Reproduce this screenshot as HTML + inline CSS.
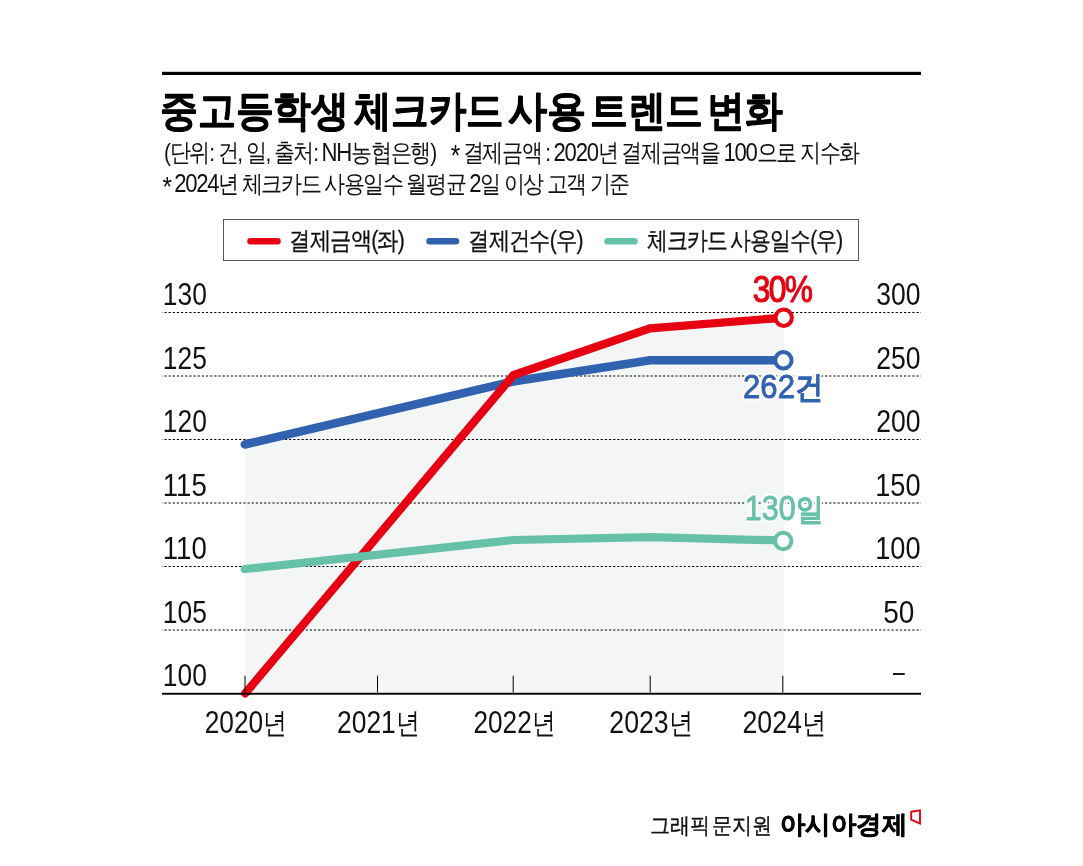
<!DOCTYPE html>
<html lang="ko">
<head>
<meta charset="utf-8">
<title>중고등학생 체크카드 사용 트렌드 변화</title>
<style>
html,body{margin:0;padding:0;background:#fff;}
body{width:1083px;height:866px;overflow:hidden;font-family:"Liberation Sans",sans-serif;}
svg{display:block;font-family:"Liberation Sans",sans-serif;will-change:transform;}
</style>
</head>
<body>
<svg width="1083" height="866" viewBox="0 0 1083 866">
<rect width="1083" height="866" fill="#fff"/>
<!-- top rule -->
<rect x="162" y="71.8" width="759" height="3.2" fill="#000"/>
<!-- title -->
<text x="159.90" y="125.00" font-size="41.70" fill="#000" textLength="189.23" lengthAdjust="spacingAndGlyphs" font-weight="bold" stroke="#000" stroke-width="0.8" stroke-linejoin="round">중고등학생</text>
<text x="353.78" y="125.00" font-size="41.70" fill="#000" textLength="149.86" lengthAdjust="spacingAndGlyphs" font-weight="bold" stroke="#000" stroke-width="0.8" stroke-linejoin="round">체크카드</text>
<text x="507.77" y="125.00" font-size="41.70" fill="#000" textLength="78.30" lengthAdjust="spacingAndGlyphs" font-weight="bold" stroke="#000" stroke-width="0.8" stroke-linejoin="round">사용</text>
<text x="589.67" y="125.00" font-size="41.70" fill="#000" textLength="113.62" lengthAdjust="spacingAndGlyphs" font-weight="bold" stroke="#000" stroke-width="0.8" stroke-linejoin="round">트렌드</text>
<text x="707.42" y="125.00" font-size="41.70" fill="#000" textLength="75.67" lengthAdjust="spacingAndGlyphs" font-weight="bold" stroke="#000" stroke-width="0.8" stroke-linejoin="round">변화</text>

<!-- notes -->
<text x="163.97" y="160.82" font-size="24.80" fill="#111" textLength="272.03" lengthAdjust="spacingAndGlyphs" style="word-spacing:-1px;letter-spacing:-1.5px;">(단위: 건, 일, 출처: <tspan font-size="26.29">NH</tspan>농협은행)</text>
<text x="450.79" y="160.82" font-size="24.80" fill="#111" textLength="408.21" lengthAdjust="spacingAndGlyphs" style="word-spacing:-1px;letter-spacing:-1.5px;"><tspan font-size="29.02" baseline-shift="-3.9">*</tspan> 결제금액 : <tspan font-size="26.29">2020</tspan>년 결제금액을 <tspan font-size="26.29">100</tspan>으로 지수화</text>
<text x="162.59" y="192.09" font-size="23.78" fill="#111" textLength="466.42" lengthAdjust="spacingAndGlyphs" style="word-spacing:-1px;letter-spacing:-1.5px;"><tspan font-size="27.82" baseline-shift="-3.9">*</tspan> <tspan font-size="25.20">2024</tspan>년 체크카드 사용일수 월평균 <tspan font-size="25.20">2</tspan>일 이상 고객 기준</text>

<!-- legend -->
<rect x="223.5" y="219.5" width="635" height="41" fill="#fff" stroke="#585858" stroke-width="1"/>
<line x1="250.5" y1="241.2" x2="277.5" y2="241.2" stroke="#e60012" stroke-width="6.5" stroke-linecap="round"/>
<line x1="429.5" y1="241.2" x2="456" y2="241.2" stroke="#3162b0" stroke-width="6.5" stroke-linecap="round"/>
<line x1="607.5" y1="241.2" x2="634.5" y2="241.2" stroke="#67c1a9" stroke-width="6.5" stroke-linecap="round"/>
<text x="289.31" y="248.57" font-size="24.88" fill="#111" textLength="114.72" lengthAdjust="spacingAndGlyphs" stroke="#111" stroke-width="0.3" stroke-linejoin="round" style="letter-spacing:-1px;">결제금액(좌)</text>
<text x="468.15" y="248.57" font-size="24.88" fill="#111" textLength="114.51" lengthAdjust="spacingAndGlyphs" stroke="#111" stroke-width="0.3" stroke-linejoin="round" style="letter-spacing:-1px;">결제건수(우)</text>
<text x="646.70" y="248.57" font-size="24.88" fill="#111" textLength="195.73" lengthAdjust="spacingAndGlyphs" stroke="#111" stroke-width="0.3" stroke-linejoin="round" style="word-spacing:-2px;letter-spacing:-1px;">체크카드 사용일수(우)</text>

<!-- plot fill -->
<path d="M244.8,693 L244.8,444.5 L513,381.5 L650,360.3 L784,360.3 L784,693 Z" fill="#f4f6f6"/>
<path d="M244.8,693 L244.8,692 L513.5,375 L650,328 L784,317.7 L784,693 Z" fill="#f4f6f6"/>
<!-- gridlines -->
<g stroke="#000" stroke-width="1" stroke-dasharray="2.2 1.955" stroke-dashoffset="1.75">
<line x1="162" y1="312.5" x2="921" y2="312.5"/>
<line x1="162" y1="376" x2="921" y2="376"/>
<line x1="162" y1="439.5" x2="921" y2="439.5"/>
<line x1="162" y1="503" x2="921" y2="503"/>
<line x1="162" y1="566.5" x2="921" y2="566.5"/>
<line x1="162" y1="630" x2="921" y2="630"/>
</g>
<!-- y labels -->
<text x="162.82" y="305.18" font-size="30.85" fill="#111" textLength="43.98" lengthAdjust="spacingAndGlyphs">130</text>
<text x="162.82" y="368.68" font-size="30.85" fill="#111" textLength="43.98" lengthAdjust="spacingAndGlyphs">125</text>
<text x="162.82" y="432.18" font-size="30.85" fill="#111" textLength="43.98" lengthAdjust="spacingAndGlyphs">120</text>
<text x="162.82" y="495.68" font-size="30.85" fill="#111" textLength="43.98" lengthAdjust="spacingAndGlyphs">115</text>
<text x="162.82" y="559.18" font-size="30.85" fill="#111" textLength="43.98" lengthAdjust="spacingAndGlyphs">110</text>
<text x="162.82" y="622.68" font-size="30.85" fill="#111" textLength="43.98" lengthAdjust="spacingAndGlyphs">105</text>
<text x="162.82" y="686.18" font-size="30.85" fill="#111" textLength="43.98" lengthAdjust="spacingAndGlyphs">100</text>

<text x="876.28" y="305.19" font-size="30.85" fill="#111" textLength="44.18" lengthAdjust="spacingAndGlyphs">300</text>
<text x="876.20" y="368.69" font-size="30.85" fill="#111" textLength="44.30" lengthAdjust="spacingAndGlyphs">250</text>
<text x="876.20" y="432.19" font-size="30.85" fill="#111" textLength="44.30" lengthAdjust="spacingAndGlyphs">200</text>
<text x="875.19" y="495.69" font-size="30.85" fill="#111" textLength="45.33" lengthAdjust="spacingAndGlyphs">150</text>
<text x="875.19" y="559.19" font-size="30.85" fill="#111" textLength="45.33" lengthAdjust="spacingAndGlyphs">100</text>
<text x="883.19" y="622.69" font-size="30.85" fill="#111" textLength="31.16" lengthAdjust="spacingAndGlyphs">50</text>

<rect x="893" y="673.1" width="11.7" height="1.8" fill="#000"/>
<!-- x labels -->
<text x="204.66" y="733.15" font-size="29.32" fill="#111" textLength="82.54" lengthAdjust="spacingAndGlyphs"><tspan font-size="31.96">2020</tspan>년</text>
<text x="337.07" y="733.15" font-size="29.32" fill="#111" textLength="82.56" lengthAdjust="spacingAndGlyphs"><tspan font-size="31.96">2021</tspan>년</text>
<text x="473.51" y="733.15" font-size="29.32" fill="#111" textLength="81.96" lengthAdjust="spacingAndGlyphs"><tspan font-size="31.96">2022</tspan>년</text>
<text x="609.32" y="733.15" font-size="29.32" fill="#111" textLength="83.59" lengthAdjust="spacingAndGlyphs"><tspan font-size="31.96">2023</tspan>년</text>
<text x="742.49" y="733.15" font-size="29.32" fill="#111" textLength="83.73" lengthAdjust="spacingAndGlyphs"><tspan font-size="31.96">2024</tspan>년</text>

<!-- series lines -->
<g fill="none" stroke-width="8.2" stroke-linejoin="miter" stroke-linecap="round">
<polyline points="244.8,444.5 513,381.5 650,360.3 783.4,360.3" stroke="#3162b0" stroke-width="8.5"/>
<polyline points="245.2,693.4 513.5,375 650,328.3 783.6,317.7" stroke="#e60012"/>
<polyline points="244.8,569 513,540 650,537.2 783.2,540.5" stroke="#67c1a9"/>
</g>
<!-- axis -->
<rect x="162" y="692.8" width="759" height="1.9" fill="#000"/>
<g stroke="#000" stroke-width="1">
<line x1="245" y1="675.7" x2="245" y2="692.5"/>
<line x1="377.5" y1="675.7" x2="377.5" y2="692.5"/>
<line x1="513.2" y1="675.7" x2="513.2" y2="692.5"/>
<line x1="650.2" y1="675.7" x2="650.2" y2="692.5"/>
<line x1="782.8" y1="675.7" x2="782.8" y2="692.5"/>
</g>
<!-- end markers -->
<circle cx="783.7" cy="317.7" r="8.2" fill="#fff" stroke="#e60012" stroke-width="4"/>
<circle cx="783.4" cy="360.3" r="8.2" fill="#fff" stroke="#3162b0" stroke-width="4"/>
<circle cx="783.2" cy="541" r="8.2" fill="#fff" stroke="#67c1a9" stroke-width="4"/>
<!-- value labels -->
<text x="752.87" y="302.00" font-size="37.85" fill="#fff" textLength="58.32" lengthAdjust="spacingAndGlyphs" stroke="#fff" stroke-width="4" stroke-linejoin="round" font-weight="normal" style="letter-spacing:-2px;" aria-hidden="true">30%</text>
<text x="752.87" y="302.00" font-size="37.85" fill="#e60012" textLength="58.32" lengthAdjust="spacingAndGlyphs" font-weight="normal" stroke="#e60012" stroke-width="1.2" stroke-linejoin="round" style="letter-spacing:-2px;">30%</text>
<text x="743.07" y="398.28" font-size="30.70" fill="#fff" textLength="80.17" lengthAdjust="spacingAndGlyphs" stroke="#fff" stroke-width="5" stroke-linejoin="round" font-weight="normal" aria-hidden="true"><tspan font-size="34.08">262</tspan><tspan font-weight="bold">건</tspan></text>
<text x="743.07" y="398.28" font-size="30.70" fill="#3162b0" textLength="80.17" lengthAdjust="spacingAndGlyphs" font-weight="normal" stroke="#3162b0" stroke-width="0.9" stroke-linejoin="round"><tspan font-size="34.08">262</tspan><tspan font-weight="bold" stroke-width="0.2">건</tspan></text>
<text x="744.79" y="519.92" font-size="30.79" fill="#fff" textLength="78.39" lengthAdjust="spacingAndGlyphs" stroke="#fff" stroke-width="5" stroke-linejoin="round" font-weight="normal" aria-hidden="true"><tspan font-size="34.18">130</tspan><tspan font-weight="bold">일</tspan></text>
<text x="744.79" y="519.92" font-size="30.79" fill="#67c1a9" textLength="78.39" lengthAdjust="spacingAndGlyphs" font-weight="normal" stroke="#67c1a9" stroke-width="0.9" stroke-linejoin="round"><tspan font-size="34.18">130</tspan><tspan font-weight="bold" stroke-width="0.2">일</tspan></text>

<!-- footer -->
<text x="650.37" y="832.66" font-size="22.24" fill="#111" textLength="122.09" lengthAdjust="spacingAndGlyphs" stroke="#111" stroke-width="0.4" stroke-linejoin="round" style="word-spacing:-4px;">그래픽 문지원</text>
<text x="779.75" y="832.95" font-size="24.65" fill="#000" textLength="127.34" lengthAdjust="spacingAndGlyphs" font-weight="bold" stroke="#000" stroke-width="0.6" stroke-linejoin="round">아시아경제</text>

<path d="M911.2,811.8 L920,810.3 L920,823.5 L911.2,819.6 Z" fill="none" stroke="#e60012" stroke-width="1.9" stroke-linejoin="miter"/>
</svg>
</body>
</html>
